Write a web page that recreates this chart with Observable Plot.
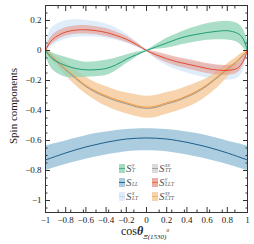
<!DOCTYPE html>
<html>
<head>
<meta charset="utf-8">
<script src="https://cdn.jsdelivr.net/npm/d3@7"></script>
<script src="https://cdn.jsdelivr.net/npm/@observablehq/plot@0.6"></script>
<style>
  html, body { margin: 0; padding: 0; background: #fff; }
  #wrap { position: relative; width: 254px; height: 244px; font-family: "Liberation Serif", "Times New Roman", "DejaVu Serif", serif; }
  #wrap svg text { font-family: "Liberation Serif", "Times New Roman", "DejaVu Serif", serif; }
  #ylab { position: absolute; left: 13px; top: 106px; transform: translate(-50%, -50%) rotate(-90deg); font-size: 11px; line-height: 11px; white-space: nowrap; color: #222; }
  #xlab { position: absolute; left: 121px; top: 225px; font-size: 12px; line-height: 12px; color: #222; white-space: nowrap; }
  #xlab .th { font-style: italic; font-weight: bold; }
  #xlab .sb { font-size: 7px; font-style: italic; position: relative; top: 4px; }
  #xlab .sp { font-size: 5px; font-style: italic; position: relative; top: -3px; }
  .leg { position: absolute; display: flex; align-items: center; height: 12px; color: #555; }
  .sw { position: relative; width: 6px; height: 9px; margin-right: 1px; }
  .sw .ln { position: absolute; left: 0; right: 0; top: 4px; height: 1px; }
  .S { font-style: italic; font-size: 11px; }
  .ss { display: inline-flex; flex-direction: column; font-style: italic; font-size: 5.5px; line-height: 5px; margin-left: 0.5px; }
</style>
</head>
<body>
<div id="wrap"></div>
<script>
// ---- data ----
const cosTheta = [-1,-0.95,-0.9,-0.8,-0.7,-0.6,-0.5,-0.4,-0.3,-0.2,-0.1,0,0.1,0.2,0.3,0.4,0.5,0.6,0.7,0.8,0.9,0.95,1];

const sTyMid = [0,-0.045,-0.07,-0.1,-0.12,-0.129,-0.128,-0.12,-0.095,-0.058,-0.028,0,0.025,0.05,0.075,0.095,0.108,0.12,0.128,0.132,0.115,0.085,0];
const sTyLo  = [-0.03,-0.11,-0.145,-0.178,-0.182,-0.178,-0.175,-0.167,-0.135,-0.089,-0.045,-0.003,0.008,0.015,0.03,0.045,0.058,0.068,0.072,0.07,0.055,0.025,-0.02];
const sTyHi  = [0.01,-0.01,-0.025,-0.045,-0.065,-0.078,-0.075,-0.065,-0.05,-0.03,-0.012,0.003,0.042,0.082,0.11,0.138,0.16,0.178,0.19,0.195,0.18,0.15,0.07];

const sLLTyMid = [0,0.06,0.09,0.123,0.136,0.138,0.132,0.12,0.1,0.075,0.04,0,-0.03,-0.055,-0.075,-0.09,-0.105,-0.12,-0.13,-0.133,-0.118,-0.08,0];
const sLLTyLo  = [-0.01,0.035,0.062,0.095,0.108,0.11,0.105,0.094,0.077,0.055,0.027,-0.005,-0.05,-0.082,-0.105,-0.122,-0.138,-0.153,-0.163,-0.166,-0.15,-0.11,-0.01];
const sLLTyHi  = [0.01,0.085,0.118,0.151,0.164,0.166,0.159,0.146,0.123,0.095,0.053,0.005,-0.01,-0.028,-0.045,-0.058,-0.072,-0.087,-0.097,-0.1,-0.086,-0.05,0.01];

const sLTxMid = [0,0.06,0.09,0.122,0.135,0.137,0.131,0.119,0.099,0.074,0.039,0,-0.031,-0.056,-0.076,-0.091,-0.106,-0.121,-0.131,-0.134,-0.119,-0.081,0];
const sLTxLo  = [-0.02,0.02,0.045,0.075,0.088,0.092,0.09,0.082,0.068,0.048,0.022,-0.01,-0.06,-0.1,-0.13,-0.15,-0.168,-0.183,-0.193,-0.198,-0.185,-0.145,-0.03];
const sLTxHi  = [0.03,0.14,0.17,0.198,0.205,0.202,0.192,0.176,0.15,0.11,0.06,0.01,-0.02,-0.04,-0.057,-0.07,-0.082,-0.092,-0.1,-0.1,-0.085,-0.05,0.02];

const sLTTxyMid = [0,-0.03,-0.062,-0.122,-0.18,-0.233,-0.272,-0.302,-0.328,-0.347,-0.368,-0.378,-0.37,-0.348,-0.33,-0.303,-0.27,-0.228,-0.175,-0.12,-0.067,-0.033,0];
const sLTTxyLo  = [0,-0.05,-0.09,-0.165,-0.235,-0.29,-0.335,-0.372,-0.4,-0.422,-0.44,-0.452,-0.445,-0.425,-0.405,-0.38,-0.35,-0.305,-0.25,-0.18,-0.1,-0.05,0];
const sLTTxyHi  = [0,-0.015,-0.04,-0.085,-0.13,-0.178,-0.215,-0.24,-0.265,-0.282,-0.295,-0.305,-0.298,-0.28,-0.265,-0.24,-0.215,-0.185,-0.14,-0.09,-0.04,-0.015,0];

const sTTxxMid = [0,-0.035,-0.068,-0.13,-0.188,-0.24,-0.28,-0.31,-0.336,-0.355,-0.375,-0.386,-0.378,-0.356,-0.337,-0.31,-0.278,-0.235,-0.182,-0.127,-0.072,-0.037,0];
const sTTxxLo  = [-0.005,-0.043,-0.076,-0.138,-0.196,-0.248,-0.288,-0.318,-0.344,-0.363,-0.383,-0.394,-0.386,-0.364,-0.345,-0.318,-0.286,-0.243,-0.19,-0.135,-0.08,-0.045,-0.005];
const sTTxxHi  = [0.005,-0.027,-0.06,-0.122,-0.18,-0.232,-0.272,-0.302,-0.328,-0.347,-0.367,-0.378,-0.37,-0.348,-0.329,-0.302,-0.27,-0.227,-0.174,-0.119,-0.064,-0.029,0.005];

const sLLMid = [-0.73,-0.718,-0.706,-0.683,-0.662,-0.643,-0.627,-0.612,-0.6,-0.59,-0.585,-0.583,-0.585,-0.59,-0.6,-0.612,-0.627,-0.643,-0.662,-0.683,-0.706,-0.718,-0.73];
const sLLLo  = [-0.8,-0.79,-0.78,-0.76,-0.742,-0.725,-0.71,-0.697,-0.685,-0.675,-0.67,-0.668,-0.67,-0.675,-0.685,-0.697,-0.71,-0.725,-0.742,-0.76,-0.78,-0.79,-0.8];
const sLLHi  = [-0.637,-0.628,-0.62,-0.603,-0.585,-0.568,-0.554,-0.543,-0.533,-0.526,-0.523,-0.522,-0.523,-0.526,-0.533,-0.543,-0.554,-0.568,-0.585,-0.603,-0.62,-0.628,-0.637];

const xMajorTicks = [-1,-0.8,-0.6,-0.4,-0.2,0,0.2,0.4,0.6,0.8,1];
const xTickLabels = ["−1","−0.8","−0.6","−0.4","−0.2","0","0.2","0.4","0.6","0.8","1"];
const yMajorTicks = [0.2,0,-0.2,-0.4,-0.6,-0.8,-1];
const yTickLabels = ["0.2","0","−0.2","−0.4","−0.6","−0.8","−1"];
const xMinorTicks = d3.range(-40, 41, 5).map(v => v / 40);
const yMinorTicks = d3.range(-21, 6, 1).map(v => v / 20);

// ---- build tables ----
const table = (mid, lo, hi) => cosTheta.map((x, i) => ({x, mid: mid[i], lo: lo[i], hi: hi[i]}));
const series = {
  LL:   {data: table(sLLMid, sLLLo, sLLHi), band: "#a7cadd", line: "#1d5e8c", op: 0.95},
  LTx:  {data: table(sLTxMid, sLTxLo, sLTxHi), band: "#dcebfb", line: "#b3d3f3", op: 0.9},
  TTxx: {data: table(sTTxxMid, sTTxxLo, sTTxxHi), band: "#d8d8d8", line: "#9a9a9a", op: 0.9},
  LTTxy:{data: table(sLTTxyMid, sLTTxyLo, sLTTxyHi), band: "#f5c999", line: "#f59a3c", op: 0.8},
  LLTy: {data: table(sLLTyMid, sLLTyLo, sLLTyHi), band: "#e79a8e", line: "#f0461e", op: 0.6},
  Ty:   {data: table(sTyMid, sTyLo, sTyHi), band: "#8fd3b4", line: "#1f9e74", op: 0.75}
};
const order = ["LL", "LTx", "TTxx", "LTTxy", "LLTy", "Ty"];

const xFmt = d => xTickLabels[xMajorTicks.indexOf(d)];
const yFmt = d => yTickLabels[yMajorTicks.indexOf(d)];
const FONT = "'Liberation Serif', 'Times New Roman', 'DejaVu Serif', serif";

const marks = [];
for (const k of order) {
  const s = series[k];
  marks.push(Plot.areaY(s.data, {x: "x", y1: "lo", y2: "hi", fill: s.band, fillOpacity: s.op, curve: "catmull-rom"}));
}
for (const k of order) {
  const s = series[k];
  marks.push(Plot.lineY(s.data, {x: "x", y: "mid", stroke: s.line, strokeWidth: 1, curve: "catmull-rom"}));
}
const noLab = {tickFormat: () => "", stroke: "#333", label: null};
marks.push(
  Plot.frame({stroke: "#333", strokeWidth: 1}),
  Plot.axisX(xMajorTicks, {anchor: "bottom", tickSize: -5, ...noLab}),
  Plot.axisX(xMajorTicks, {anchor: "top", tickSize: -5, ...noLab}),
  Plot.axisX(xMinorTicks, {anchor: "bottom", tickSize: -2.5, ...noLab}),
  Plot.axisX(xMinorTicks, {anchor: "top", tickSize: -2.5, ...noLab}),
  Plot.axisY(yMajorTicks, {anchor: "left", tickSize: -5, ...noLab}),
  Plot.axisY(yMajorTicks, {anchor: "right", tickSize: -5, ...noLab}),
  Plot.axisY(yMinorTicks, {anchor: "left", tickSize: -2.5, ...noLab}),
  Plot.axisY(yMinorTicks, {anchor: "right", tickSize: -2.5, ...noLab}),
  Plot.axisX(xMajorTicks, {anchor: "bottom", tickSize: 0, tickPadding: 4, tickFormat: xFmt, fontSize: 9, fontFamily: FONT, fill: "#222", label: null}),
  Plot.axisY(yMajorTicks, {anchor: "left", tickSize: 0, tickPadding: 4, tickFormat: yFmt, fontSize: 9, fontFamily: FONT, fill: "#222", label: null})
);

const chart = Plot.plot({
  width: 254,
  height: 244,
  marginLeft: 45,
  marginRight: 7,
  marginTop: 5,
  marginBottom: 32,
  x: {domain: [-1, 1], label: null},
  y: {domain: [-1.08, 0.3], label: null},
  style: {fontFamily: FONT, background: "#fff"},
  marks
});

const wrap = document.getElementById("wrap");
wrap.appendChild(chart);

// ---- labels ----
const ylab = document.createElement("div");
ylab.id = "ylab";
ylab.textContent = "Spin components";
wrap.appendChild(ylab);

const xlab = document.createElement("div");
xlab.id = "xlab";
xlab.innerHTML = 'cos<span class="th">θ</span><span class="sb">Ξ(1530)</span><span class="sp">0</span>';
wrap.appendChild(xlab);

// ---- legend ----
const legendItems = [
  {key: "Ty",    sub: "T",   sup: "y",  col: 0, row: 0},
  {key: "LL",    sub: "LL",  sup: "",   col: 0, row: 1},
  {key: "LTx",   sub: "LT",  sup: "x",  col: 0, row: 2},
  {key: "TTxx",  sub: "TT",  sup: "xx", col: 1, row: 0},
  {key: "LLTy",  sub: "LLT", sup: "y",  col: 1, row: 1},
  {key: "LTTxy", sub: "LTT", sup: "xy", col: 1, row: 2}
];
const colX = [119, 152];
const rowY = [162, 176, 190];
for (const it of legendItems) {
  const s = series[it.key];
  const d = document.createElement("div");
  d.className = "leg";
  d.style.left = colX[it.col] + "px";
  d.style.top = rowY[it.row] + "px";
  d.innerHTML = `<span class="sw" style="background:${s.band};opacity:${Math.max(s.op,0.8)}"><span class="ln" style="background:${s.line}"></span></span>` +
    `<span class="S">S</span><span class="ss"><span>${it.sup || "&nbsp;"}</span><span>${it.sub}</span></span>`;
  wrap.appendChild(d);
}
</script>
</body>
</html>
